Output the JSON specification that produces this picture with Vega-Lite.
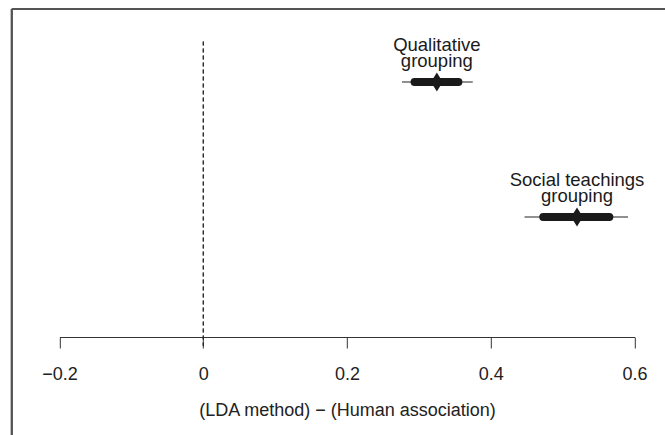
{
  "$schema": "https://vega.github.io/schema/vega-lite/v6.json",
  "autosize": "none",
  "width": 653.2,
  "height": 426,
  "padding": {"left": 11.8, "top": 9, "right": 0, "bottom": 0},
  "background": "white",
  "config": {
    "view": {"stroke": null},
    "font": "Liberation Sans"
  },
  "data": {
    "values": [
      {"group": "Qualitative grouping", "label": "Qualitative\ngrouping", "row": 1, "estimate": 0.325, "lo95": 0.2765, "hi95": 0.375, "lo50": 0.294, "hi50": 0.355},
      {"group": "Social teachings grouping", "label": "Social teachings\ngrouping", "row": 2, "estimate": 0.52, "lo95": 0.447, "hi95": 0.591, "lo50": 0.473, "hi50": 0.565}
    ]
  },
  "layer": [
    {
      "mark": {"type": "rule", "color": "#555555", "strokeWidth": 2},
      "encoding": {
        "x": {"datum": -0.26637, "type": "quantitative", "scale": {"domain": [-0.2, 0.6], "range": [47.7, 622.7], "nice": false, "zero": false},
          "axis": {"title": "(LDA method) − (Human association)", "values": [-0.2, 0, 0.2, 0.4, 0.6], "labelExpr": "datum.value == 0 ? '0' : format(datum.value, '.1f')", "offset": -98, "grid": false, "domainColor": "#333333", "tickColor": "#333333", "tickSize": 11, "labelFontSize": 18, "labelColor": "#222222", "labelPadding": 17, "labelFlush": false, "titleFontSize": 18, "titleFontWeight": "normal", "titleColor": "#222222", "titlePadding": 18, "labelFont": "Liberation Sans", "titleFont": "Liberation Sans"}}
      }
    },
    {
      "mark": {"type": "rule", "color": "#555555", "strokeWidth": 2},
      "encoding": {
        "y": {"datum": 0.4593, "type": "quantitative", "scale": {"domain": [1, 2], "range": [73, 208], "nice": false, "zero": false}, "axis": null}
      }
    },
    {
      "mark": {"type": "rule", "strokeDash": [4, 3], "color": "#222222", "strokeWidth": 1},
      "encoding": {
        "x": {"datum": 0, "type": "quantitative"},
        "y": {"datum": 0.7, "type": "quantitative", "axis": null},
        "y2": {"datum": 2.955}
      }
    },
    {
      "mark": {"type": "rule", "color": "#222222", "strokeWidth": 1.2},
      "encoding": {
        "x": {"field": "lo95", "type": "quantitative", "title": "(LDA method) − (Human association)"},
        "x2": {"field": "hi95"},
        "y": {"field": "row", "type": "quantitative", "axis": null}
      }
    },
    {
      "mark": {"type": "rule", "color": "#1a1a1a", "strokeWidth": 8, "strokeCap": "round"},
      "encoding": {
        "x": {"field": "lo50", "type": "quantitative", "title": "(LDA method) − (Human association)"},
        "x2": {"field": "hi50"},
        "y": {"field": "row", "type": "quantitative", "axis": null}
      }
    },
    {
      "mark": {"type": "point", "shape": "M0,-1L0.62,0L0,1L-0.62,0Z", "size": 361, "filled": true, "color": "#1a1a1a", "opacity": 1, "strokeWidth": 0},
      "encoding": {
        "x": {"field": "estimate", "type": "quantitative", "title": "(LDA method) − (Human association)"},
        "y": {"field": "row", "type": "quantitative", "axis": null}
      }
    },
    {
      "mark": {"type": "text", "align": "center", "baseline": "alphabetic", "dy": -31, "fontSize": 18.5, "lineHeight": 16, "lineBreak": "\n", "color": "#1a1a1a", "font": "Liberation Sans"},
      "encoding": {
        "x": {"field": "estimate", "type": "quantitative", "title": "(LDA method) − (Human association)"},
        "y": {"field": "row", "type": "quantitative", "axis": null},
        "text": {"field": "label"}
      }
    }
  ]
}
